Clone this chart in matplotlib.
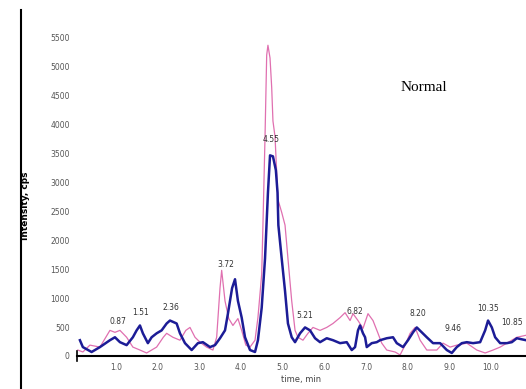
import matplotlib
matplotlib.use("Agg")
import matplotlib.pyplot as plt
from matplotlib.lines import Line2D

# blue trace (time, min ; intensity, cps)
blue_t = [0.14, 0.21, 0.42, 0.62, 0.86, 0.98, 1.10, 1.26, 1.41, 1.50, 1.58, 1.65, 1.77, 1.86,
          1.98, 2.10, 2.22, 2.30, 2.46, 2.54, 2.66, 2.82, 2.97, 3.09, 3.26, 3.38, 3.50, 3.62,
          3.69, 3.79, 3.86, 3.93, 4.02, 4.10, 4.22, 4.34, 4.41, 4.50, 4.58, 4.65, 4.70, 4.77,
          4.84, 4.88, 4.90, 4.98, 5.06, 5.13, 5.22, 5.30, 5.42, 5.54, 5.66, 5.78, 5.90, 6.06,
          6.21, 6.38, 6.54, 6.66, 6.74, 6.81, 6.86, 6.93, 6.98, 7.02, 7.14, 7.26, 7.34, 7.50,
          7.65, 7.74, 7.89, 8.01, 8.13, 8.22, 8.34, 8.46, 8.61, 8.78, 8.94, 9.06, 9.18, 9.30,
          9.42, 9.57, 9.74, 9.86, 9.93, 10.02, 10.10, 10.22, 10.38, 10.50, 10.62, 10.84]
blue_i = [272, 153, 68, 153, 272, 323, 238, 187, 323, 442, 527, 391, 221, 323,
          391, 442, 561, 612, 561, 391, 221, 102, 221, 238, 153, 187, 306, 442,
          731, 1173, 1326, 952, 663, 323, 102, 68, 272, 833, 1683, 2822, 3468, 3451,
          3213, 2822, 2261, 1683, 1122, 561, 323, 238, 391, 493, 442, 306, 238, 306,
          272, 221, 238, 102, 153, 442, 527, 391, 323, 153, 221, 238, 272, 306,
          323, 221, 153, 272, 408, 493, 408, 323, 221, 221, 102, 51, 153, 221,
          238, 221, 238, 442, 612, 493, 323, 221, 221, 238, 306, 272]

# pink trace
pink_t = [0.09, 0.21, 0.38, 0.62, 0.86, 0.98, 1.10, 1.26, 1.41, 1.58, 1.74, 1.98, 2.14, 2.22,
          2.37, 2.54, 2.68, 2.78, 2.90, 3.02, 3.18, 3.33, 3.42, 3.50, 3.54, 3.62, 3.71, 3.81,
          3.93, 4.02, 4.12, 4.22, 4.34, 4.41, 4.50, 4.53, 4.58, 4.62, 4.65, 4.70, 4.74, 4.77,
          4.82, 4.89, 4.98, 5.06, 5.13, 5.22, 5.30, 5.37, 5.49, 5.61, 5.73, 5.90, 6.06, 6.21,
          6.38, 6.50, 6.62, 6.69, 6.81, 6.93, 7.05, 7.17, 7.29, 7.38, 7.50, 7.70, 7.82, 7.94,
          8.06, 8.18, 8.30, 8.46, 8.70, 8.85, 9.02, 9.18, 9.42, 9.66, 9.86, 10.05, 10.22, 10.38,
          10.62, 10.84]
pink_i = [102, 68, 187, 153, 442, 408, 442, 323, 153, 102, 51, 153, 323, 391,
          323, 272, 442, 493, 323, 238, 153, 102, 323, 1173, 1480, 952, 646, 527,
          646, 442, 187, 153, 272, 663, 1411, 2261, 3791, 5202, 5372, 5151, 4641, 4063,
          3791, 2703, 2482, 2261, 1683, 952, 442, 323, 272, 391, 493, 442, 493, 561,
          663, 748, 612, 731, 612, 476, 731, 612, 391, 221, 102, 68, 17, 187,
          391, 493, 272, 102, 102, 221, 153, 187, 221, 102, 51, 102, 153, 221,
          323, 357]

# peak labels
peak_txt = ["0.87", "1.51", "2.36", "3.72", "4.55", "5.21", "6.82", "8.20", "9.46", "10.35", "10.85"]
peak_t = [1.05, 1.60, 2.32, 3.64, 4.72, 5.54, 6.74, 8.25, 9.09, 9.93, 10.50]
peak_i = [510, 680, 765, 1496, 3672, 629, 697, 663, 391, 748, 493]

xticks = [1.0, 2.0, 3.0, 4.0, 5.0, 6.0, 7.0, 8.0, 9.0, 10.0]
yticks = [0, 500, 1000, 1500, 2000, 2500, 3000, 3500, 4000, 4500, 5000, 5500]

fig = plt.figure(figsize=(5.26, 3.89), dpi=100)
ax = fig.add_axes([0.146, 0.085, 0.854, 0.84])

ax.plot(pink_t, pink_i, color="#e070b0", linewidth=0.9)
ax.plot(blue_t, blue_i, color="#1c1c96", linewidth=1.8)

for s, t, v in zip(peak_txt, peak_t, peak_i):
    ax.text(t, v, s, fontsize=5.5, color="#333333", ha="center", va="bottom")

ax.set_xlim(0.065, 10.84)
ax.set_ylim(0, 5650)
ax.set_xticks(xticks)
ax.set_xticklabels(["%.1f" % v for v in xticks])
ax.set_yticks(yticks)
ax.tick_params(axis="both", labelsize=5.5, labelcolor="#555555", length=0, pad=5)
for side in ["top", "right", "left"]:
    ax.spines[side].set_visible(False)
ax.spines["bottom"].set_linewidth(1.5)
ax.axvline(0.065, ymin=-0.015, ymax=0.015, color="black", linewidth=1.2, clip_on=False)

ax.set_xlabel("time, min", fontsize=6, color="#444444", labelpad=2)
ax.set_ylabel("Intensity, cps", fontsize=6.5, fontweight="bold")
ax.yaxis.set_label_coords(-0.105, 0.46)

fig.text(0.805, 0.775, "Normal", fontsize=11, family="Liberation Serif", ha="center", va="center")

# left frame line of the scanned figure
fig.add_artist(Line2D([0.040, 0.040], [0.0, 0.975], color="black", linewidth=1.5))

fig.savefig("out.png", dpi=100)
